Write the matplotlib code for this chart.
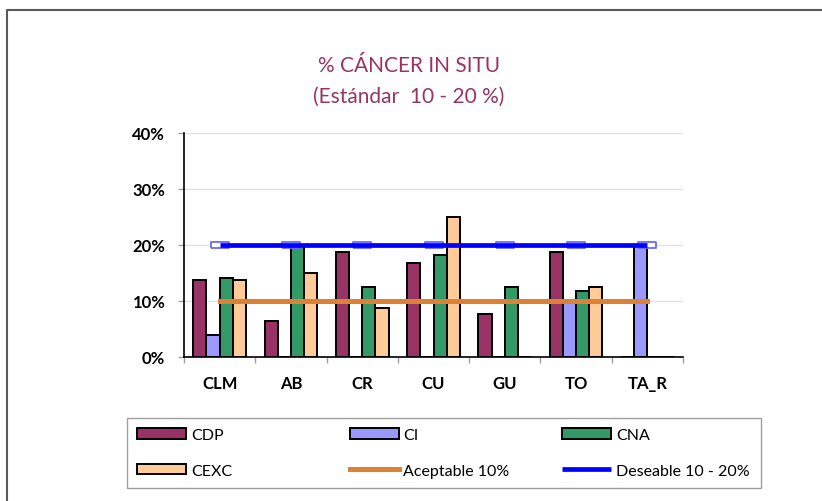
import numpy as np
import matplotlib
matplotlib.use('Agg')
import matplotlib.pyplot as plt
from matplotlib.lines import Line2D
from matplotlib.patches import Rectangle

plt.rcParams['font.family'] = ['Lato', 'DejaVu Sans']

categories = ['CLM', 'AB', 'CR', 'CU', 'GU', 'TO', 'TA_R']
cdp = [13.8, 6.3, 18.7, 16.7, 7.6, 18.8, 0]
ci = [3.8, 0, 0, 0, 0, 10.0, 20.0]
cna = [14.1, 20.0, 12.5, 18.2, 12.5, 11.8, 0]
cexc = [13.8, 15.0, 8.7, 25.0, 0, 12.5, 0]
aceptable = [10] * 7
deseable = [20] * 7

series = [('CDP', cdp, '#993366'), ('CI', ci, '#9999ff'),
          ('CNA', cna, '#339966'), ('CEXC', cexc, '#ffcc99')]

W, H = 822, 502
fig = plt.figure(figsize=(W/100, H/100), dpi=100)
ax = fig.add_axes([184/W, 1-357.7/H, (683-184)/W, (357.7-134)/H])

x = np.arange(len(categories))
w = 0.185
handles = {}
for i, (name, vals, col) in enumerate(series):
    b = ax.bar(x + (i - 1.5)*w, vals, w, color=col, edgecolor='black',
               linewidth=1.4, zorder=2, label=name)
    handles[name] = b

# lineas de referencia
rect = [(-3, -1), (3, -1), (3, 1), (-3, 1), (-3, -1)]
ax.plot(x, deseable, linestyle='none', marker=rect, markersize=13,
        markerfacecolor='white', markeredgecolor='#6a6aff',
        markeredgewidth=1.3, zorder=3)
l_ac, = ax.plot(x, aceptable, color='#dd8136', lw=3.6, solid_capstyle='projecting',
                zorder=4, label='Aceptable 10%')
l_de, = ax.plot(x, deseable, color='#0000ff', lw=3.4, solid_capstyle='butt',
                zorder=4, label='Deseable 10 - 20%')

ax.set_xlim(-0.5, len(categories) - 0.5)
ax.set_ylim(0, 40)
ax.set_yticks([0, 10, 20, 30, 40])
ax.set_yticklabels(['0%', '10%', '20%', '30%', '40%'], fontsize=12, fontweight='bold')
ax.set_xticks(x)
ax.set_xticklabels(categories, fontsize=12, fontweight='bold')
ax.set_xticks(np.arange(-0.5, len(categories)), minor=True)
ax.tick_params(axis='x', which='major', length=0, pad=13)
ax.tick_params(axis='x', which='minor', length=4.5, color='#a0a0a0', width=1)
ax.tick_params(axis='y', length=4.5, color='#a0a0a0', width=1, pad=9)
ax.yaxis.grid(True, color='#e3e3e3', lw=1, zorder=0)
ax.set_axisbelow(True)
for s in ['top', 'right']:
    ax.spines[s].set_visible(False)
ax.spines['left'].set_linewidth(1.2)
ax.spines['bottom'].set_linewidth(1.2)

fig.text(409/W, 1-66/H, '% CÁNCER IN SITU', ha='center', va='center',
         fontsize=15, color='#993366')
fig.text(409/W, 1-97/H, '(Estándar  10 - 20 %)', ha='center', va='center',
         fontsize=15, color='#993366')

# borde del grafico
fig.add_artist(Line2D([7/W, 7/W, 1], [0, 1-11/H, 1-11/H],
                      transform=fig.transFigure, color='#5a5a5a', lw=1.5))

# leyenda: tres columnas de igual ancho dentro de un marco
fig.add_artist(Rectangle((126.7/W, 1-489/H), (761-126.7)/W, 70/H,
                         transform=fig.transFigure, facecolor='none',
                         edgecolor='#a0a0a0', lw=1))
columns = [([handles['CDP'], handles['CEXC']], ['CDP', 'CEXC']),
           ([handles['CI'], l_ac], ['CI', 'Aceptable 10%']),
           ([handles['CNA'], l_de], ['CNA', 'Deseable 10 - 20%'])]
for k, (hs, ls) in enumerate(columns):
    lg = fig.legend(hs, ls, loc='center left', bbox_to_anchor=((137 + 212.5*k)/W, 1-454/H),
                    fontsize=11.5, handlelength=3.07, handleheight=0.63,
                    handletextpad=0.3, frameon=False, borderaxespad=0,
                    borderpad=0, labelspacing=1.36)

fig.savefig('out.png', dpi=100)
